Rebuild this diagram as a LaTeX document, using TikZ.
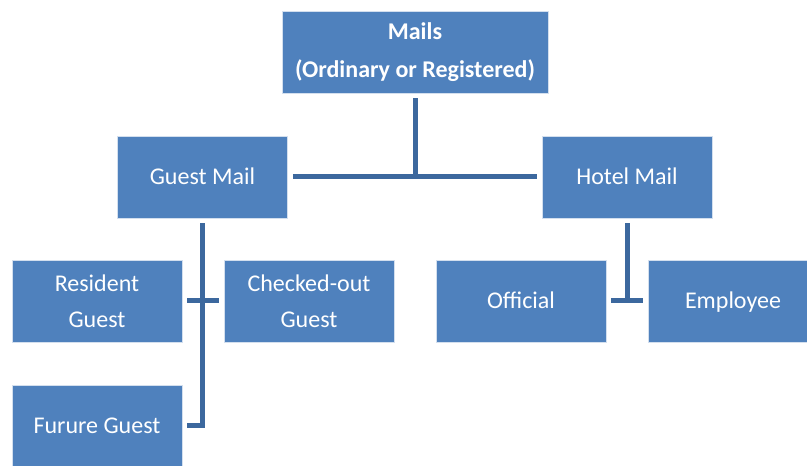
\documentclass[tikz,border=0pt]{standalone}
\usepackage{fontspec}
\setmainfont{Carlito}

\definecolor{boxblue}{RGB}{79,129,189}
\definecolor{linkblue}{RGB}{60,104,158}

\begin{document}
\begin{tikzpicture}[x=0.75pt,y=-0.75pt,
    box/.style={rectangle,fill=boxblue,draw=white!75!boxblue,line width=0.6pt,
      text=white,align=center,inner sep=0pt,outer sep=4pt,
      minimum width=127.5pt,minimum height=61.5pt,
      font=\fontsize{18}{27}\selectfont},
    link/.style={draw=linkblue,line width=3.75pt}]
  \useasboundingbox (0,0) rectangle (807,466);
  % root of the tree
  \node[box,minimum width=199.5pt,font=\fontsize{18}{28}\selectfont\bfseries]
    (mails) at (415,52) {Mails\\(Ordinary or Registered)};
  % the two kinds of mail and what falls under them
  \foreach \name/\xval/\yval/\txt in {guest/202.5/177/{Guest Mail\strut},
      hotel/627/177/{Hotel Mail\strut}, resident/97/301/{Resident\\Guest},
      checked/309/301/{Checked-out\\Guest}, future/97/426/{Furure Guest\strut},
      official/521/301/{Official\strut}, employee/733/301/{Employee\strut}} {
    \node[box] (\name) at (\xval,\yval) {\txt};
  }
  % connectors
  \draw[link] (mails.south) -- (mails.south |- guest.east);
  \draw[link] (guest.east) -- (hotel.west);
  \draw[link] (guest.south) |- (future.east);
  \draw[link] (resident.east) -- (checked.west);
  \draw[link] (hotel.south) -- (hotel.south |- official.east);
  \draw[link] (official.east) -- (employee.west);
\end{tikzpicture}
\end{document}
